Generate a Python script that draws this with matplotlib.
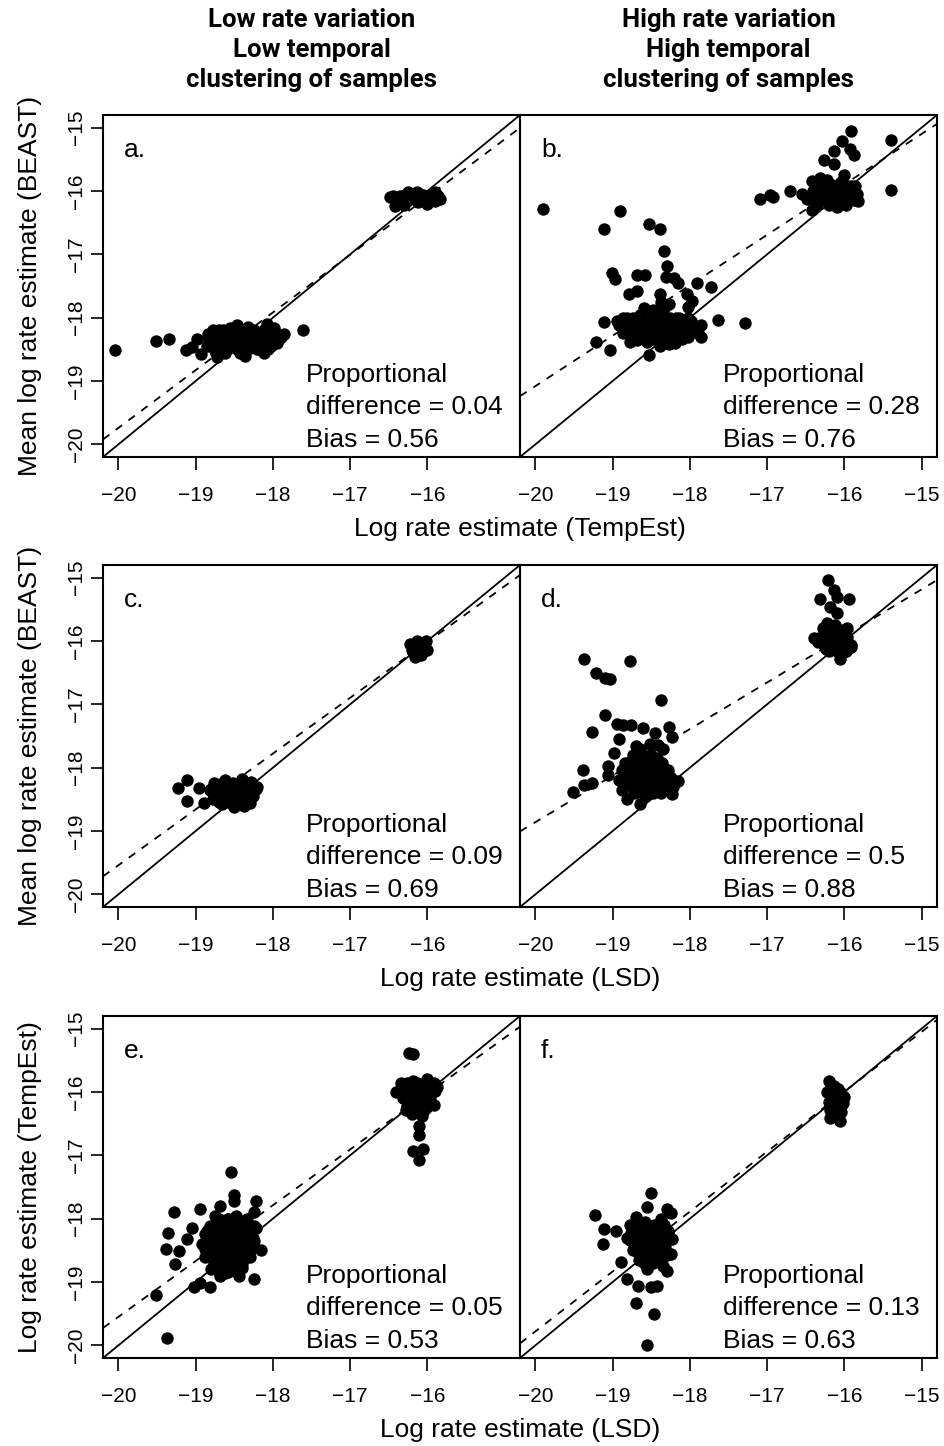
import matplotlib
matplotlib.use("Agg")
import matplotlib.pyplot as plt
from matplotlib import font_manager as fm

# ---------------- data ----------------
col_titles = ["Low rate variation\nLow temporal\nclustering of samples",
              "High rate variation\nHigh temporal\nclustering of samples"]
panel_letters = ["a.", "b.", "c.", "d.", "e.", "f."]
prop_diff = ["0.04", "0.28", "0.09", "0.5", "0.05", "0.13"]
bias = ["0.56", "0.76", "0.69", "0.88", "0.53", "0.63"]
x_labels = ["Log rate estimate (TempEst)", "Log rate estimate (LSD)", "Log rate estimate (LSD)"]
y_labels = ["Mean log rate estimate (BEAST)", "Mean log rate estimate (BEAST)", "Log rate estimate (TempEst)"]
# regression (dashed) lines: intercept, slope
reg_intercept = [-1.52, -3.16, -1.92, -4.16, -1.93, -0.86]
reg_slope = [0.911, 0.796, 0.881, 0.735, 0.881, 0.946]
axis_ticks = [-20, -19, -18, -17, -16, -15]

pts_a = [(-20.04,-18.51),(-19.52,-18.37),(-19.35,-18.33),(-19.12,-18.51),(-19.05,-18.47),(-18.98,-18.34),
         (-18.84,-18.26),(-18.93,-18.58),(-17.61,-18.19),
         (-18.85,-18.45),(-18.80,-18.30),(-18.75,-18.52),(-18.70,-18.20),(-18.66,-18.40),(-18.62,-18.56),
         (-18.60,-18.30),(-18.55,-18.16),(-18.52,-18.46),(-18.48,-18.36),(-18.45,-18.24),(-18.42,-18.56),
         (-18.40,-18.42),(-18.35,-18.30),(-18.32,-18.14),(-18.30,-18.48),(-18.25,-18.36),(-18.20,-18.24),
         (-18.18,-18.50),(-18.14,-18.40),(-18.10,-18.18),(-18.06,-18.30),(-18.02,-18.44),(-17.98,-18.16),
         (-17.92,-18.34),(-17.86,-18.26),(-18.72,-18.62),(-18.36,-18.60),(-18.08,-18.10),(-18.58,-18.38),
         (-18.28,-18.22),(-18.46,-18.12),(-18.62,-18.22),(-18.12,-18.56),(-17.95,-18.40),
         (-18.78,-18.20),(-18.64,-18.20),(-18.50,-18.20),(-18.38,-18.20),(-18.24,-18.20),(-18.12,-18.20),
         (-17.98,-18.20),(-18.84,-18.30),(-18.70,-18.30),(-18.56,-18.30),(-18.44,-18.30),(-18.30,-18.30),
         (-18.16,-18.30),(-18.02,-18.30),(-17.90,-18.30),(-18.80,-18.40),(-18.66,-18.40),(-18.52,-18.40),
         (-18.40,-18.40),(-18.26,-18.40),(-18.12,-18.40),(-17.98,-18.40),(-18.74,-18.50),(-18.60,-18.50),
         (-18.46,-18.50),(-18.34,-18.50),(-18.20,-18.50),(-18.06,-18.50),
         (-16.48,-16.10),(-16.40,-16.18),(-16.35,-16.08),(-16.30,-16.22),(-16.24,-16.12),(-16.18,-16.06),
         (-16.12,-16.18),(-16.06,-16.06),(-16.00,-16.20),(-15.96,-16.10),(-15.90,-16.02),(-15.84,-16.12),
         (-16.14,-16.02),(-16.42,-16.24),(-16.04,-16.14),(-16.25,-16.02),
         (-16.44,-16.08),(-16.32,-16.08),(-16.20,-16.08),(-16.08,-16.08),(-15.96,-16.08),(-15.86,-16.08),
         (-16.38,-16.16),(-16.26,-16.16),(-16.14,-16.16),(-16.02,-16.16),(-15.90,-16.16)]

pts_b = [(-19.90,-16.28),(-18.90,-16.31),(-19.11,-16.60),(-18.53,-16.52),(-18.39,-16.60),(-18.33,-16.94),
         (-18.30,-17.18),(-19.01,-17.30),(-18.97,-17.39),(-18.68,-17.32),(-18.58,-17.33),(-18.31,-17.35),
         (-18.20,-17.37),(-18.15,-17.46),(-17.91,-17.46),(-17.73,-17.51),(-18.79,-17.62),(-18.69,-17.58),
         (-18.39,-17.62),(-18.37,-17.76),(-18.27,-17.79),(-18.04,-17.63),(-17.97,-17.73),(-18.03,-17.83),
         (-19.11,-18.07),(-19.22,-18.38),(-19.03,-18.51),(-18.53,-18.59),(-17.64,-18.03),(-17.29,-18.09),
         (-17.85,-18.30),(-18.78,-18.38),(-18.39,-18.44),(-18.27,-18.42),(-18.19,-18.40),
         (-18.95,-18.05),(-18.88,-18.15),(-18.82,-18.00),(-18.75,-18.20),(-18.70,-18.08),(-18.65,-17.95),
         (-18.62,-18.28),(-18.58,-18.12),(-18.52,-18.02),(-18.50,-18.22),(-18.45,-18.32),(-18.42,-18.10),
         (-18.38,-17.92),(-18.35,-18.20),(-18.30,-18.05),(-18.26,-18.28),(-18.22,-18.15),(-18.18,-18.00),
         (-18.12,-18.22),(-18.08,-18.10),(-18.02,-18.30),(-17.98,-18.05),(-17.92,-18.18),(-17.86,-18.12),
         (-18.60,-17.85),(-18.48,-17.88),(-18.68,-18.35),(-18.55,-18.38),(-18.40,-18.00),(-18.33,-17.85),
         (-18.15,-18.32),
         (-18.86,-18.00),(-18.74,-18.00),(-18.62,-18.00),(-18.50,-18.00),(-18.38,-18.00),(-18.26,-18.00),
         (-18.14,-18.00),(-18.02,-18.00),(-18.92,-18.12),(-18.80,-18.12),(-18.68,-18.12),(-18.56,-18.12),
         (-18.44,-18.12),(-18.32,-18.12),(-18.20,-18.12),(-18.08,-18.12),(-17.96,-18.12),(-18.86,-18.24),
         (-18.74,-18.24),(-18.62,-18.24),(-18.50,-18.24),(-18.38,-18.24),(-18.26,-18.24),(-18.14,-18.24),
         (-18.02,-18.24),(-17.90,-18.24),(-18.70,-18.34),(-18.58,-18.34),(-18.46,-18.34),(-18.34,-18.34),
         (-18.22,-18.34),(-18.10,-18.34),
         (-17.09,-16.13),(-16.96,-16.06),(-16.93,-16.09),(-16.70,-16.00),(-16.55,-16.05),(-16.42,-15.84),
         (-16.32,-15.79),(-16.42,-16.30),(-16.26,-15.51),(-16.14,-15.37),(-16.13,-15.58),(-16.03,-15.21),
         (-15.91,-15.06),(-15.93,-15.33),(-15.88,-15.43),(-16.01,-15.74),(-15.39,-15.20),(-15.39,-15.98),
         (-16.48,-16.12),(-16.40,-16.00),(-16.35,-16.20),(-16.30,-15.95),(-16.25,-16.08),(-16.20,-16.22),
         (-16.16,-15.90),(-16.12,-16.05),(-16.08,-16.18),(-16.04,-15.86),(-16.00,-16.00),(-15.96,-16.12),
         (-15.92,-15.92),(-15.86,-16.05),(-15.82,-16.15),(-16.22,-15.82),(-16.10,-16.25),(-15.98,-16.22),
         (-16.32,-15.92),(-16.20,-15.92),(-16.08,-15.92),(-15.96,-15.92),(-15.86,-15.92),(-16.42,-16.04),
         (-16.30,-16.04),(-16.18,-16.04),(-16.06,-16.04),(-15.94,-16.04),(-15.84,-16.04),(-16.36,-16.14),
         (-16.24,-16.14),(-16.12,-16.14),(-16.00,-16.14),(-15.88,-16.14)]

pts_c = [(-19.23,-18.32),(-19.11,-18.20),(-18.96,-18.32),(-19.11,-18.53),(-18.89,-18.55),
         (-18.82,-18.35),(-18.78,-18.50),(-18.74,-18.25),(-18.70,-18.40),(-18.66,-18.58),(-18.62,-18.20),
         (-18.58,-18.34),(-18.55,-18.48),(-18.50,-18.62),(-18.48,-18.25),(-18.45,-18.38),(-18.42,-18.52),
         (-18.40,-18.18),(-18.36,-18.30),(-18.32,-18.45),(-18.28,-18.22),(-18.25,-18.36),(-18.20,-18.30),
         (-18.60,-18.45),(-18.52,-18.30),(-18.38,-18.60),(-18.30,-18.56),
         (-18.76,-18.24),(-18.64,-18.24),(-18.52,-18.24),(-18.40,-18.24),(-18.28,-18.24),(-18.80,-18.34),
         (-18.68,-18.34),(-18.56,-18.34),(-18.44,-18.34),(-18.32,-18.34),(-18.22,-18.34),(-18.74,-18.44),
         (-18.62,-18.44),(-18.50,-18.44),(-18.38,-18.44),(-18.26,-18.44),(-18.70,-18.54),(-18.58,-18.54),
         (-18.46,-18.54),(-18.34,-18.54),
         (-16.22,-16.05),(-16.18,-16.18),(-16.14,-16.00),(-16.12,-16.12),(-16.08,-16.22),(-16.05,-16.08),
         (-16.00,-16.15),(-16.16,-16.25),(-16.02,-16.00),(-16.16,-16.10),(-16.10,-16.04),(-16.06,-16.16),
         (-16.20,-16.14)]

pts_d = [(-19.37,-16.28),(-18.77,-16.31),(-19.22,-16.51),(-19.10,-16.59),(-19.03,-16.60),(-18.38,-16.93),
         (-19.10,-17.17),(-19.27,-17.44),(-18.95,-17.31),(-18.86,-17.32),(-18.76,-17.32),(-18.61,-17.38),
         (-18.45,-17.46),(-18.27,-17.35),(-18.23,-17.51),(-18.92,-17.55),(-18.41,-17.64),(-18.35,-17.71),
         (-18.43,-17.84),(-18.98,-17.77),(-19.38,-18.04),(-19.52,-18.39),(-19.37,-18.27),(-19.27,-18.24),
         (-19.06,-17.97),(-19.06,-18.12),(-18.82,-18.50),(-18.64,-18.57),(-18.23,-18.42),(-18.15,-18.21),
         (-18.92,-18.20),(-18.88,-18.35),(-18.84,-18.05),(-18.80,-18.25),(-18.76,-17.90),(-18.72,-18.12),
         (-18.68,-18.38),(-18.65,-17.70),(-18.62,-18.00),(-18.60,-18.22),(-18.56,-17.82),(-18.54,-18.10),
         (-18.50,-18.32),(-18.46,-18.02),(-18.42,-18.20),(-18.38,-18.40),(-18.34,-18.08),(-18.30,-18.25),
         (-18.26,-18.15),(-18.22,-18.30),(-18.70,-17.65),(-18.58,-18.45),(-18.44,-17.95),(-18.66,-18.28),
         (-18.52,-17.62),
         (-18.74,-17.80),(-18.62,-17.80),(-18.50,-17.80),(-18.84,-17.92),(-18.72,-17.92),(-18.60,-17.92),
         (-18.48,-17.92),(-18.36,-17.92),(-18.88,-18.04),(-18.76,-18.04),(-18.64,-18.04),(-18.52,-18.04),
         (-18.40,-18.04),(-18.28,-18.04),(-18.84,-18.16),(-18.72,-18.16),(-18.60,-18.16),(-18.48,-18.16),
         (-18.36,-18.16),(-18.24,-18.16),(-18.78,-18.28),(-18.66,-18.28),(-18.54,-18.28),(-18.42,-18.28),
         (-18.30,-18.28),(-18.72,-18.40),(-18.60,-18.40),(-18.48,-18.40),
         (-16.21,-15.03),(-16.13,-15.19),(-16.09,-15.30),(-16.31,-15.34),(-15.94,-15.34),(-16.19,-15.46),
         (-16.09,-15.56),(-16.06,-16.29),(-16.39,-15.96),
         (-16.34,-16.02),(-16.28,-15.80),(-16.24,-16.12),(-16.20,-15.92),(-16.16,-16.05),(-16.12,-15.75),
         (-16.08,-16.18),(-16.04,-15.88),(-16.00,-16.00),(-15.96,-15.80),(-15.92,-16.10),(-16.22,-15.72),
         (-16.10,-15.98),(-15.98,-16.16),
         (-16.24,-15.82),(-16.14,-15.82),(-16.04,-15.82),(-16.30,-15.94),(-16.18,-15.94),(-16.06,-15.94),
         (-15.96,-15.94),(-16.26,-16.06),(-16.14,-16.06),(-16.02,-16.06),(-15.92,-16.06),(-16.20,-16.16),
         (-16.08,-16.16),(-15.98,-16.16)]

pts_e = [(-16.24,-15.38),(-16.18,-15.40),
         (-16.40,-16.00),(-16.34,-15.85),(-16.30,-16.10),(-16.26,-15.95),(-16.22,-16.22),(-16.18,-15.82),
         (-16.15,-16.05),(-16.12,-16.30),(-16.08,-15.90),(-16.05,-16.15),(-16.00,-15.80),(-15.96,-16.02),
         (-15.92,-16.20),(-15.88,-15.92),(-16.20,-16.35),(-16.10,-16.00),(-16.02,-16.25),(-16.28,-16.28),
         (-16.26,-15.86),(-16.14,-15.86),(-16.02,-15.86),(-15.92,-15.86),(-16.36,-15.98),(-16.24,-15.98),
         (-16.12,-15.98),(-16.00,-15.98),(-15.90,-15.98),(-16.32,-16.10),(-16.20,-16.10),(-16.08,-16.10),
         (-15.96,-16.10),(-16.26,-16.22),(-16.14,-16.22),(-16.02,-16.22),(-16.16,-16.32),(-16.06,-16.32),
         (-16.07,-16.38),(-16.11,-16.54),(-16.11,-16.68),(-16.18,-16.93),(-16.06,-16.90),(-16.11,-17.08),
         (-18.54,-17.27),(-18.50,-17.63),(-18.51,-17.72),(-18.22,-17.72),(-19.28,-17.89),(-18.95,-17.84),
         (-18.68,-17.80),(-18.75,-17.95),(-18.25,-17.90),(-19.05,-18.14),(-19.36,-18.22),(-19.38,-18.48),
         (-19.22,-18.51),(-19.27,-18.72),(-19.11,-18.32),(-18.15,-18.49),(-18.25,-18.95),(-19.02,-19.08),
         (-18.95,-19.01),(-18.82,-19.08),(-19.52,-19.21),(-19.37,-19.88),
         (-18.92,-18.40),(-18.88,-18.60),(-18.85,-18.20),(-18.80,-18.80),(-18.76,-18.45),(-18.72,-18.05),
         (-18.70,-18.65),(-18.66,-18.30),(-18.62,-18.85),(-18.60,-18.50),(-18.56,-18.10),(-18.54,-18.70),
         (-18.50,-18.35),(-18.48,-17.95),(-18.45,-18.55),(-18.42,-18.20),(-18.40,-18.78),(-18.36,-18.40),
         (-18.32,-18.08),(-18.30,-18.60),(-18.26,-18.30),(-18.22,-18.15),(-18.58,-18.00),(-18.68,-18.90),
         (-18.78,-18.28),(-18.44,-18.90),(-18.34,-18.48),(-18.52,-18.80),
         (-18.70,-18.00),(-18.58,-18.00),(-18.46,-18.00),(-18.34,-18.00),(-18.82,-18.12),(-18.70,-18.12),
         (-18.58,-18.12),(-18.46,-18.12),(-18.34,-18.12),(-18.24,-18.12),(-18.88,-18.24),(-18.76,-18.24),
         (-18.64,-18.24),(-18.52,-18.24),(-18.40,-18.24),(-18.28,-18.24),(-18.84,-18.36),(-18.72,-18.36),
         (-18.60,-18.36),(-18.48,-18.36),(-18.36,-18.36),(-18.24,-18.36),(-18.88,-18.48),(-18.76,-18.48),
         (-18.64,-18.48),(-18.52,-18.48),(-18.40,-18.48),(-18.28,-18.48),(-18.82,-18.60),(-18.70,-18.60),
         (-18.58,-18.60),(-18.46,-18.60),(-18.34,-18.60),(-18.76,-18.72),(-18.64,-18.72),(-18.52,-18.72),
         (-18.40,-18.72),(-18.70,-18.84),(-18.58,-18.84),(-18.46,-18.84)]

pts_f = [(-16.20,-15.83),(-16.14,-15.90),(-16.08,-15.95),(-16.22,-16.00),(-16.16,-16.05),(-16.04,-16.02),
         (-16.20,-16.15),(-16.12,-16.12),(-16.02,-16.18),(-16.18,-16.28),(-16.10,-16.25),(-16.04,-16.32),
         (-16.19,-16.41),(-16.06,-16.46),(-16.14,-16.38),(-16.00,-16.08),
         (-16.18,-15.95),(-16.08,-15.95),(-16.16,-16.10),(-16.06,-16.10),(-16.14,-16.22),(-16.04,-16.22),
         (-16.12,-16.34),
         (-18.51,-17.60),(-18.56,-17.81),(-18.30,-17.84),(-18.24,-17.91),(-19.23,-17.94),(-18.70,-17.98),
         (-19.11,-18.17),(-18.96,-18.19),(-19.12,-18.40),(-18.23,-18.32),(-18.30,-18.58),(-18.89,-18.68),
         (-18.30,-18.82),(-18.81,-18.96),(-18.67,-19.06),(-18.50,-19.08),(-18.42,-19.06),(-18.70,-19.33),
         (-18.47,-19.50),(-18.55,-20.00),
         (-18.82,-18.30),(-18.78,-18.10),(-18.74,-18.50),(-18.70,-18.20),(-18.66,-18.65),(-18.62,-18.35),
         (-18.58,-18.05),(-18.55,-18.80),(-18.52,-18.45),(-18.48,-18.15),(-18.45,-18.62),(-18.42,-18.30),
         (-18.38,-18.00),(-18.35,-18.75),(-18.32,-18.45),(-18.28,-18.20),(-18.25,-18.55),(-18.60,-18.25),
         (-18.50,-18.70),(-18.40,-18.50),(-18.68,-18.40),(-18.56,-18.55),
         (-18.70,-18.10),(-18.58,-18.10),(-18.46,-18.10),(-18.34,-18.10),(-18.76,-18.22),(-18.64,-18.22),
         (-18.52,-18.22),(-18.40,-18.22),(-18.28,-18.22),(-18.78,-18.34),(-18.66,-18.34),(-18.54,-18.34),
         (-18.42,-18.34),(-18.30,-18.34),(-18.72,-18.46),(-18.60,-18.46),(-18.48,-18.46),(-18.36,-18.46),
         (-18.66,-18.58),(-18.54,-18.58),(-18.42,-18.58),(-18.60,-18.70),(-18.48,-18.70),(-18.38,-18.70)]

panel_points = [pts_a, pts_b, pts_c, pts_d, pts_e, pts_f]

# ---------------- style ----------------
names = {f.name for f in fm.fontManager.ttflist}
base_font = "Liberation Sans" if "Liberation Sans" in names else "DejaVu Sans"
plt.rcParams["font.family"] = [base_font, "DejaVu Sans"]

if "Roboto" in names:
    title_prop = fm.FontProperties(family=["Roboto", "DejaVu Sans"], weight="bold", size=18.5)
else:
    title_prop = fm.FontProperties(family=[base_font, "DejaVu Sans"], weight="bold", size=17.5)

W, H = 944, 1446
fig = plt.figure(figsize=(W / 100, H / 100), dpi=100)

col_left = [103, 520]
col_w = 417
row_top = [115, 565, 1016]
row_h = 342
lo, hi = -20.2, -14.8

for i in range(6):
    r, c = divmod(i, 2)
    ax = fig.add_axes([col_left[c] / W, 1 - (row_top[r] + row_h) / H, col_w / W, row_h / H])
    ax.set_xlim(lo, hi)
    ax.set_ylim(lo, hi)
    for s in ax.spines.values():
        s.set_linewidth(1.5)
    xs = [p[0] for p in panel_points[i]]
    ys = [p[1] for p in panel_points[i]]
    ax.scatter(xs, ys, s=80, color="black", linewidths=0, zorder=3)
    ax.axline((-20, -20), (-15, -15), color="black", lw=1.3, zorder=2)
    ax.axline((0, reg_intercept[i]), slope=reg_slope[i], color="black", lw=1.3,
              linestyle=(0, (4.4, 4.4)), zorder=2)
    ax.text(0.05, 0.898, panel_letters[i], transform=ax.transAxes, fontsize=19,
            ha="left", va="center")
    ax.text(0.486, 0.240, "Proportional", transform=ax.transAxes, fontsize=19, ha="left", va="center")
    ax.text(0.486, 0.146, "difference = " + prop_diff[i], transform=ax.transAxes, fontsize=19,
            ha="left", va="center")
    ax.text(0.486, 0.050, "Bias = " + bias[i], transform=ax.transAxes, fontsize=19,
            ha="left", va="center")
    if c == 0:
        ax.set_xticks(axis_ticks[:-1])
        ax.set_yticks(axis_ticks)
        ax.set_yticklabels([f"\u2212{abs(t)}" for t in axis_ticks], rotation=90, va="center")
        ax.tick_params(axis="y", direction="out", length=9, width=1.2, labelsize=15, pad=3)
    else:
        ax.set_xticks(axis_ticks)
        ax.set_yticks([])
    ax.set_xticklabels([f"\u2212{abs(t)}" for t in ax.get_xticks().astype(int)])
    ax.tick_params(axis="x", direction="out", length=9, width=1.2, labelsize=15, pad=12)

    if c == 0:
        fig.text(30 / W, 1 - (row_top[r] + row_h / 2) / H, y_labels[r], rotation=90,
                 fontsize=19, ha="center", va="center")
for r in range(3):
    fig.text(520 / W, 1 - (row_top[r] + row_h + 72) / H, x_labels[r], fontsize=19,
             ha="center", va="center")

for c in range(2):
    fig.text((col_left[c] + col_w / 2) / W, 1 - 50 / H, col_titles[c],
             fontproperties=title_prop, ha="center", va="center", linespacing=1.33)

fig.savefig("out.png", dpi=100)
